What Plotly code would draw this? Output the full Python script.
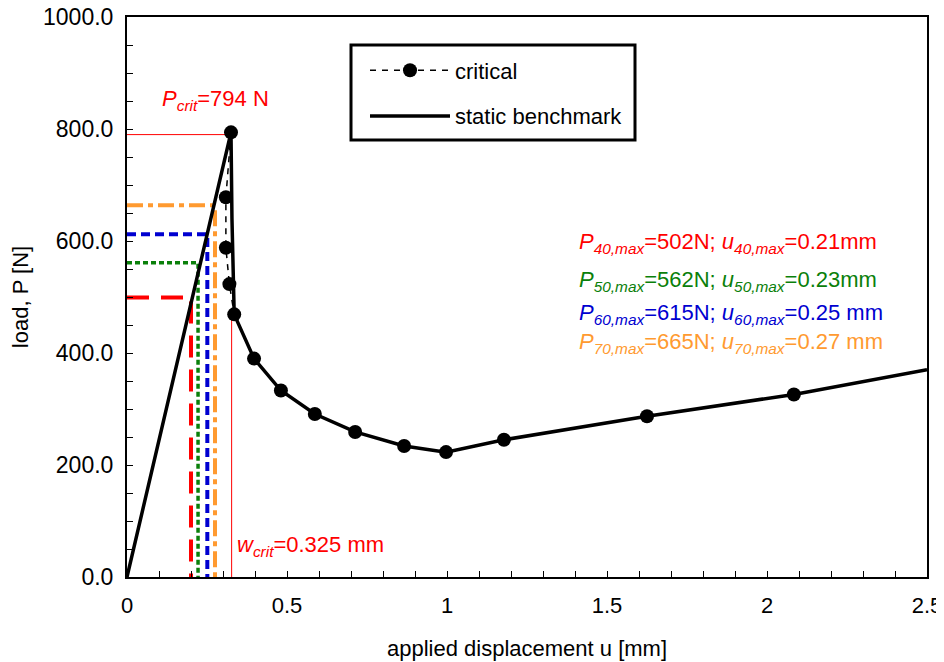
import plotly.graph_objects as go

# ---- data ----
crit_u = [0.325, 0.309, 0.309, 0.32, 0.335, 0.397, 0.481, 0.587, 0.713, 0.866, 0.997, 1.178, 1.625, 2.084]
crit_P = [794, 678, 588, 523, 469, 390, 333, 291, 259, 234, 223, 245, 287, 326]

static_u = [0.0, 0.325, 0.328, 0.335, 0.397, 0.481, 0.587, 0.713, 0.866, 0.997, 1.178, 1.625, 2.084, 2.5]
static_P = [0, 794, 640, 469, 390, 333, 291, 259, 234, 223, 245, 287, 326, 370]

P_crit = 790
w_crit = 0.327
w_crit_P = 469

levels = ["40", "50", "60", "70"]
P_max = [502, 562, 615, 665]
u_max = [0.21, 0.23, 0.25, 0.27]
u_lines = [0.20, 0.222, 0.251, 0.275]
P_lines = [499, 561, 612, 664]
u_text = ["0.21mm", "0.23mm", "0.25 mm", "0.27 mm"]
colors = ["#ff0000", "#0a800a", "#0000d0", "#ff9a30"]
dashes = ["22px,12px", "5px,3px", "9px,5px", "16px,5px,5px,5px"]
widths = [4, 3.5, 4, 4]

x_ticks = [0, 0.5, 1, 1.5, 2, 2.5]
y_ticks = [0, 200, 400, 600, 800, 1000]

FONT = "Liberation Sans, Arial, sans-serif"

fig = go.Figure()

# coloured guide lines
for c, d, w, u, p in zip(colors, dashes, widths, u_lines, P_lines):
    fig.add_trace(go.Scatter(x=[0, u, u], y=[p, p, 0], mode="lines",
                             line=dict(color=c, width=w, dash=d),
                             showlegend=False, hoverinfo="skip"))

# red critical lines
fig.add_trace(go.Scatter(x=[0, 0.325], y=[P_crit, P_crit], mode="lines",
                         line=dict(color="#ff0000", width=1), showlegend=False))
fig.add_trace(go.Scatter(x=[w_crit, w_crit], y=[0, w_crit_P], mode="lines",
                         line=dict(color="#ff0000", width=1), showlegend=False))

fig.add_trace(go.Scatter(x=crit_u, y=crit_P, mode="lines+markers", name="critical",
                         legendgroup="a",
                         line=dict(color="black", width=1.5, dash="6px,6px"),
                         marker=dict(color="black", size=14)))
fig.add_trace(go.Scatter(x=static_u, y=static_P, mode="lines", name="static benchmark",
                         legendgroup="b",
                         line=dict(color="black", width=3.5)))

annots = []
annots.append(dict(x=0.103, y=852, xref="x", yref="y", xanchor="left", yanchor="middle",
                   text="<i>P<sub>crit</sub></i>=794 N", showarrow=False,
                   font=dict(color="#ff0000", size=22, family=FONT)))
annots.append(dict(x=0.3375, y=55, xref="x", yref="y", xanchor="left", yanchor="middle",
                   text="<i>w<sub>crit</sub></i>=0.325 mm", showarrow=False,
                   font=dict(color="#ff0000", size=22, family=FONT)))
ys = [597, 529, 470, 418]
for lv, pm, ut, c, yy in zip(levels, P_max, u_text, colors, ys):
    annots.append(dict(x=1.405, y=yy, xref="x", yref="y", xanchor="left", yanchor="middle",
                       text=f"<i>P<sub>{lv},max</sub></i>={pm}N; <i>u<sub>{lv},max</sub></i>={ut}",
                       showarrow=False, font=dict(color=c, size=22, family=FONT)))

fig.update_layout(
    width=944, height=662,
    margin=dict(l=119, r=25, t=9, b=93),
    plot_bgcolor="white", paper_bgcolor="white",
    font=dict(family=FONT, size=23, color="black"),
    annotations=annots,
    legend=dict(x=0.2975, y=0.942, xanchor="left", yanchor="top",
                bgcolor="rgba(0,0,0,0)", borderwidth=0,
                font=dict(size=22, family=FONT), tracegroupgap=14,
                itemwidth=80),
    shapes=[dict(type="rect", xref="paper", yref="paper",
                 x0=(351 - 127) / 800, x1=(635 - 127) / 800,
                 y0=(577 - 140) / 560, y1=(577 - 45) / 560,
                 line=dict(color="black", width=3))],
    showlegend=True,
)
fig.update_xaxes(range=[0, 2.5], tickvals=x_ticks, ticktext=[str(t) if t % 1 else str(int(t)) for t in x_ticks],
                 ticks="inside", ticklen=6, tickwidth=1, tickcolor="black",
                 minor=dict(dtick=0.1, ticks="inside", ticklen=6, tickcolor="black"),
                 showline=True, linecolor="black", linewidth=2, mirror=True,
                 showgrid=False, zeroline=False, automargin=False,
                 tickfont=dict(size=22), ticklabelstandoff=8, ticklabeloverflow="allow",
                 title=dict(text="applied displacement u [mm]", font=dict(size=22), standoff=23))
fig.update_yaxes(range=[0, 1000], tickvals=y_ticks, tickformat=".1f",
                 ticks="inside", ticklen=6, tickwidth=1, tickcolor="black",
                 minor=dict(dtick=50, ticks="inside", ticklen=6, tickcolor="black"),
                 showline=True, linecolor="black", linewidth=2, mirror=True,
                 showgrid=False, zeroline=False, automargin=False,
                 tickfont=dict(size=23), ticklabelstandoff=7, ticklabeloverflow="allow",
                 title=dict(text="load, P [N]", font=dict(size=22), standoff=9))

fig.write_html("out.html")
